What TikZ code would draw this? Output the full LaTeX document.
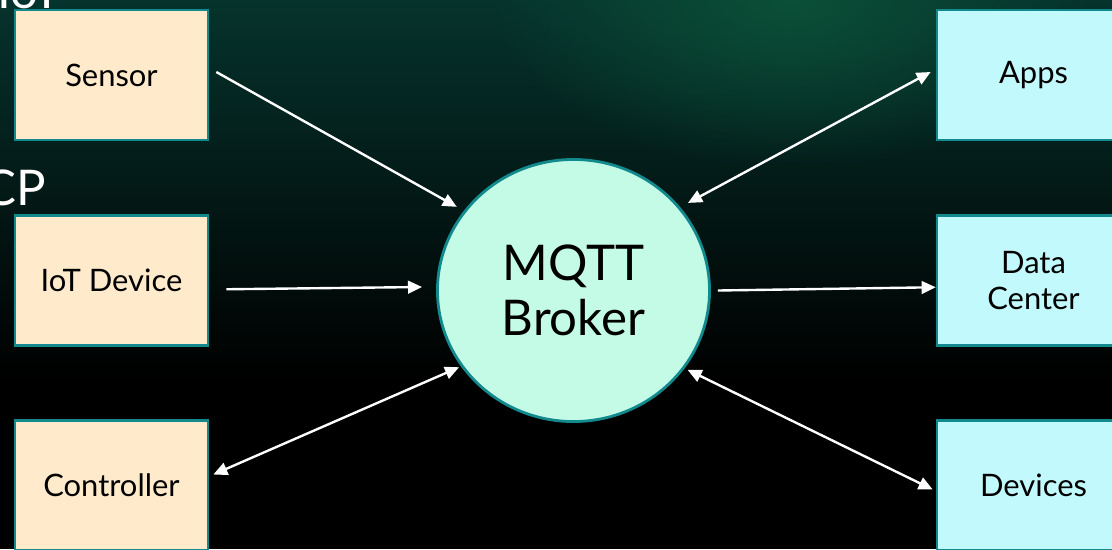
\documentclass[tikz,border=0pt]{standalone}
\usepackage{fontspec}
\setmainfont{Lato}
\usetikzlibrary{arrows.meta}
\usetikzlibrary{shapes.geometric}
\usetikzlibrary{fadings}

\definecolor{edgeteal}{HTML}{12898C}
\definecolor{srcfill}{HTML}{FFEBCB}
\definecolor{dstfill}{HTML}{C2F9FC}
\definecolor{hubfill}{HTML}{C4FBE6}
\definecolor{bgteal}{HTML}{06332D}
\definecolor{bgglow}{HTML}{0B5038}

\tikzfading[name=glowfade, inner color=transparent!0, outer color=transparent!100]

\begin{document}
\begin{tikzpicture} [
        x=0.025cm, y=-0.025cm,
        client/.style={draw=edgeteal, rectangle, line width=2pt, fill=srcfill, minimum width=4.82cm, minimum height=3.25cm, inner sep=0pt, font=\fontsize{22}{25.5}\selectfont, align=center},
        server/.style={client, fill=dstfill},
        hub/.style={draw=edgeteal, ellipse, line width=2pt, fill=hubfill, minimum width=6.8cm, minimum height=6.55cm, inner sep=0pt, font=\fontsize{35}{39}\selectfont, align=center},
        flow/.style={draw=white, line width=1.7pt, -{Triangle[length=10pt,width=9pt]}},
        both/.style={flow, {Triangle[length=10pt,width=9pt]}-{Triangle[length=10pt,width=9pt]}},
        side/.style={text=white, inner sep=0pt, font=\fontsize{35}{39}\selectfont},
        node distance=5.13cm ]
    \clip (0,0) rectangle (1112,549);
    % background
    \fill[black] (0,0) rectangle (1112,549);
    \shade[top color=bgteal, bottom color=black] (0,0) rectangle (1112,380);
    \fill[bgglow, path fading=glowfade] (790,0) ellipse [x radius=7.5cm, y radius=4.2cm];

    \node[side, anchor=base east] (proto) at (62,8) {IoT};
    \node[side, anchor=base east] (transport) at (46,205) {TCP};

    \node[client] (sensor) at (111.5,75) {Sensor};
    \node[client, below of=sensor] (iot) {IoT Device};
    \node[client, below of=iot] (ctrl) {Controller};

    \node[server] (apps) at (1033.5,75) {Apps};
    \node[server, below of=apps] (data) {Data\\Center};
    \node[server, below of=data] (devices) {Devices};

    \node[hub] (broker) at (573.5,290.5) {MQTT\\Broker};

    \draw[flow, shorten >=0.2cm] ([shift={(7,-3)}]sensor.east) -- (broker.144);
    \draw[flow] ([shift={(17,9)}]iot.east) -- ([shift={(-14,-3.5)}]broker.west);
    \draw[both, shorten >=0.05cm] ([shift={(4,-11)}]ctrl.east) -- (broker.214);
    \draw[both, shorten <=0.22cm] (broker.38) -- ([shift={(-5,-3)}]apps.west);
    \draw[flow] ([shift={(7,0)}]broker.east) -- ([shift={(0,7)}]data.west);
    \draw[both, shorten <=0.08cm] (broker.-35) -- ([shift={(-3,4)}]devices.west);
\end{tikzpicture}
\end{document}
